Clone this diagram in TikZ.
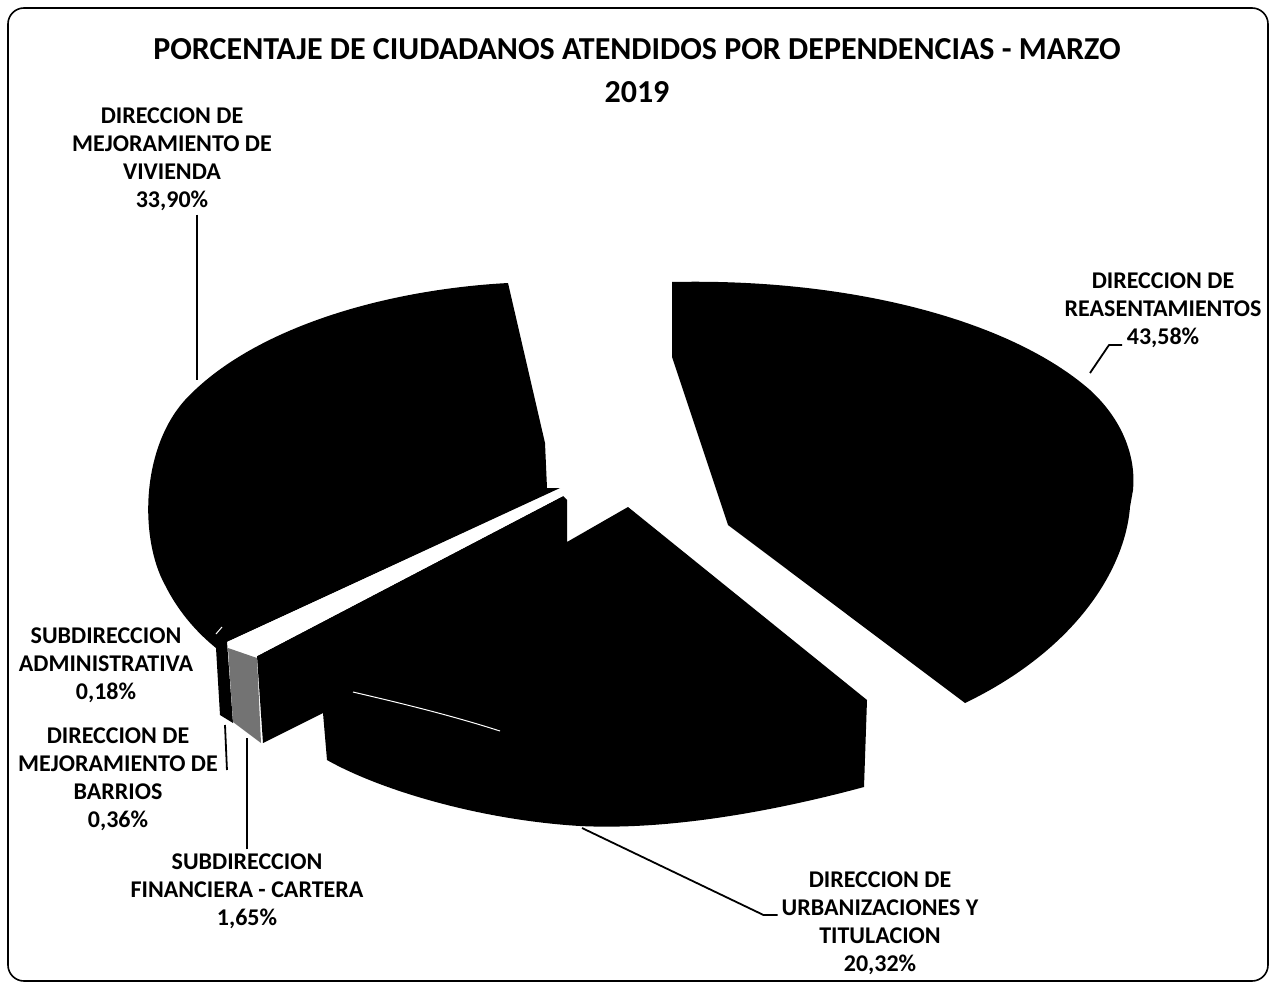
\documentclass[tikz,border=0pt]{standalone}
\usepackage{fontspec}
\setmainfont{Carlito}
\begin{document}
\begin{tikzpicture}[x=1pt, y=-1pt]

    \tikzstyle{slice} = [fill=black, draw=none]
    \tikzstyle{pietext} = [align=center, font=\bfseries\fontsize{24}{28}\selectfont, inner sep=4pt]
    \tikzstyle{leader} = [line width=1.8pt, line join=round]

    \useasboundingbox (0,0) rectangle (1274,985);
    \draw[line width=1.6pt, rounded corners=16pt] (8,8) rectangle (1268,981);

    \node[align=center, font=\bfseries\fontsize{32}{43}\selectfont] (title) at (637,71)
        {PORCENTAJE DE CIUDADANOS ATENDIDOS POR DEPENDENCIAS - MARZO\\2019};

    % vivienda
    \fill[slice] (508,283) .. controls (380,290) and (250,330) .. (185,400)
        .. controls (140,450) and (140,540) .. (165,585)
        .. controls (180,615) and (200,635) .. (216,648)
        -- (220,715) -- (233,723) -- (227,642) -- (560,488) -- (547,488) -- (545,443) -- cycle;
    % financiera y urbanizaciones
    \fill[slice] (257,656) -- (563,496) -- (567,500) -- (567,542) -- (628,507) -- (867,700)
        -- (864,787) .. controls (760,815) and (660,830) .. (580,826)
        .. controls (480,820) and (380,790) .. (327,760) -- (323,713) -- (263,743) -- cycle;
    % reasentamientos
    \fill[slice] (672,282) .. controls (850,278) and (1010,320) .. (1090,390)
        .. controls (1125,422) and (1136,460) .. (1133,490) -- (1130,507)
        .. controls (1125,570) and (1075,650) .. (965,703) -- (728,525) -- (672,357) -- cycle;

    % cara superior y frontal de la tajada delgada
    \fill[white] (227,642) -- (560,489) -- (563,496) -- (257,656) -- cycle;
    \fill[black!55] (228,648) -- (257,658) -- (261,743) -- (233,722) -- cycle;
    \draw[white, line width=1pt] (353,692) .. controls (400,703) and (450,715) .. (500,731);

    % etiquetas
    \node[pietext] (viv) at (172,159) {DIRECCION DE\\MEJORAMIENTO DE\\VIVIENDA\\33,90\%};
    \node[pietext] (reas) at (1163,310) {DIRECCION DE\\REASENTAMIENTOS\\43,58\%};
    \node[pietext] (adm) at (106,665) {SUBDIRECCION\\ADMINISTRATIVA\\0,18\%};
    \node[pietext] (bar) at (118,779) {DIRECCION DE\\MEJORAMIENTO DE\\BARRIOS\\0,36\%};
    \node[pietext] (fin) at (247,891) {SUBDIRECCION\\FINANCIERA - CARTERA\\1,65\%};
    \node[pietext] (urb) at (880,923) {DIRECCION DE\\URBANIZACIONES Y\\TITULACION\\20,32\%};

    \coordinate (vivend) at (197,380);
    \coordinate (reastip) at (1122,345);
    \coordinate (reasend) at (1090,373);
    \coordinate (admend) at (222,627);
    \coordinate (barend) at (225,725);
    \coordinate (finend) at (247,738);
    \coordinate (urbend) at (582,828);

    \draw[leader] (viv.south -| vivend) -- (vivend);
    \draw[leader] (reastip) -- ++(-13,0) -- (reasend);
    \draw[white, line width=1pt] (216,634) -- (admend);
    \draw[leader] (bar.north east |- 0,770) ++(5,0) -- (barend);
    \draw[leader] (fin.north -| finend) -- (finend);
    \draw[leader] (urb.west |- 0,915) -- ++(-14,0) -- (urbend);

\end{tikzpicture}
\end{document}
